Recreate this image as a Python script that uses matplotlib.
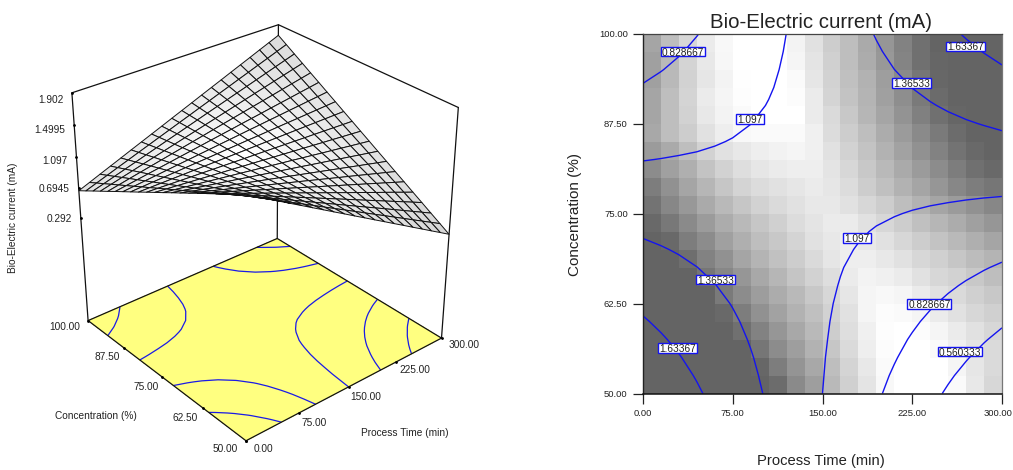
import numpy as np
import matplotlib
matplotlib.use("Agg")
import matplotlib.pyplot as plt
from matplotlib.patches import Rectangle
from matplotlib.transforms import ScaledTranslation

plt.rcParams['font.family'] = ['Liberation Sans', 'DejaVu Sans']

W, H = 1013, 470

# ---------- data ----------
time_values = [0, 15, 30, 45, 60, 75, 90, 105, 120, 135, 150, 165, 180, 195, 210, 225, 240, 255, 270, 285, 300]
conc_values = [50, 52.5, 55, 57.5, 60, 62.5, 65, 67.5, 70, 72.5, 75, 77.5, 80, 82.5, 85, 87.5, 90, 92.5, 95, 97.5, 100]
# rows: concentration, columns: process time
current_ma = [
 [1.902,1.822,1.741,1.661,1.580,1.500,1.419,1.339,1.258,1.178,1.097,1.017,0.936,0.856,0.775,0.695,0.614,0.534,0.453,0.373,0.292],
 [1.840,1.766,1.692,1.619,1.545,1.471,1.397,1.324,1.250,1.176,1.103,1.029,0.955,0.881,0.808,0.734,0.660,0.586,0.513,0.439,0.366],
 [1.777,1.711,1.644,1.577,1.510,1.443,1.376,1.309,1.242,1.175,1.108,1.041,0.974,0.907,0.841,0.774,0.707,0.640,0.573,0.506,0.439],
 [1.715,1.655,1.595,1.535,1.475,1.414,1.354,1.294,1.234,1.174,1.114,1.054,0.994,0.933,0.873,0.813,0.753,0.693,0.633,0.573,0.513],
 [1.653,1.599,1.546,1.493,1.439,1.386,1.333,1.279,1.226,1.173,1.119,1.066,1.013,0.959,0.906,0.853,0.799,0.746,0.693,0.639,0.586],
 [1.591,1.544,1.497,1.451,1.404,1.358,1.311,1.265,1.218,1.172,1.125,1.078,1.032,0.985,0.939,0.892,0.846,0.799,0.753,0.706,0.660],
 [1.528,1.488,1.449,1.409,1.369,1.329,1.290,1.250,1.210,1.170,1.131,1.091,1.051,1.011,0.971,0.932,0.892,0.852,0.812,0.773,0.733],
 [1.466,1.433,1.400,1.367,1.334,1.301,1.268,1.235,1.202,1.169,1.136,1.103,1.070,1.037,1.004,0.971,0.938,0.905,0.872,0.839,0.807],
 [1.404,1.377,1.351,1.325,1.299,1.273,1.247,1.220,1.194,1.168,1.142,1.116,1.090,1.063,1.037,1.011,0.985,0.959,0.932,0.906,0.880],
 [1.341,1.322,1.303,1.283,1.264,1.244,1.225,1.206,1.186,1.167,1.147,1.128,1.109,1.089,1.070,1.050,1.031,1.012,0.992,0.973,0.954],
 [1.279,1.266,1.254,1.241,1.229,1.216,1.203,1.191,1.178,1.166,1.153,1.140,1.128,1.115,1.103,1.090,1.077,1.065,1.052,1.040,1.027],
 [1.217,1.211,1.205,1.199,1.193,1.188,1.182,1.176,1.170,1.164,1.159,1.153,1.147,1.141,1.135,1.129,1.124,1.118,1.112,1.106,1.101],
 [1.154,1.155,1.156,1.157,1.158,1.159,1.160,1.161,1.162,1.163,1.164,1.165,1.166,1.167,1.168,1.169,1.170,1.171,1.172,1.173,1.174],
 [1.092,1.100,1.108,1.115,1.123,1.131,1.139,1.146,1.154,1.162,1.170,1.178,1.185,1.193,1.201,1.209,1.216,1.224,1.232,1.240,1.248],
 [1.030,1.044,1.059,1.073,1.088,1.103,1.117,1.132,1.146,1.161,1.175,1.190,1.205,1.219,1.234,1.248,1.263,1.277,1.292,1.306,1.321],
 [0.968,0.989,1.010,1.032,1.053,1.074,1.096,1.117,1.138,1.160,1.181,1.202,1.224,1.245,1.266,1.288,1.309,1.330,1.352,1.373,1.395],
 [0.905,0.933,0.962,0.990,1.018,1.046,1.074,1.102,1.130,1.158,1.187,1.215,1.243,1.271,1.299,1.327,1.355,1.384,1.412,1.440,1.468],
 [0.843,0.878,0.913,0.948,0.983,1.018,1.052,1.087,1.122,1.157,1.192,1.227,1.262,1.297,1.332,1.367,1.402,1.437,1.472,1.507,1.542],
 [0.781,0.822,0.864,0.906,0.947,0.989,1.031,1.073,1.114,1.156,1.198,1.240,1.281,1.323,1.365,1.406,1.448,1.490,1.532,1.573,1.615],
 [0.718,0.767,0.815,0.864,0.912,0.961,1.009,1.058,1.106,1.155,1.203,1.252,1.300,1.349,1.397,1.446,1.494,1.543,1.591,1.640,1.689],
 [0.656,0.711,0.767,0.822,0.877,0.933,0.988,1.043,1.098,1.154,1.209,1.264,1.320,1.375,1.430,1.486,1.541,1.596,1.652,1.707,1.762],
]
# grey level of the 20 x 20 map, listed from the top row (conc. 100) down
grey_cells = [
 [165,190,215,235,248,255,255,255,243,225,205,190,170,150,130,112,100,100,100,100],
 [160,185,212,232,247,255,255,255,245,228,208,190,172,152,132,112,102,100,100,100],
 [160,185,210,230,243,254,255,255,250,230,210,192,178,158,138,118,103,100,100,100],
 [165,190,212,235,245,253,255,255,252,235,212,195,180,160,142,122,107,100,100,100],
 [165,190,210,232,243,250,255,255,255,235,218,200,182,165,147,128,112,102,100,100],
 [168,190,205,225,238,248,250,250,250,240,220,205,190,172,155,138,122,108,100,100],
 [155,170,190,210,225,232,238,242,245,240,225,210,195,178,162,145,130,115,105,100],
 [140,160,175,195,210,222,230,235,238,238,228,215,200,185,170,155,140,125,112,105],
 [125,145,165,182,198,212,220,225,230,235,230,220,205,192,178,165,150,135,125,118],
 [115,135,152,170,185,198,210,218,225,232,232,225,215,205,190,178,165,155,145,135],
 [105,120,138,155,172,185,198,208,220,228,235,235,225,215,205,192,182,172,160,150],
 [100,105,125,140,160,175,190,200,212,225,232,238,232,225,215,205,195,185,175,165],
 [100,100,110,130,145,165,180,193,205,218,230,238,238,232,225,215,208,198,188,180],
 [100,100,100,118,135,150,168,182,197,210,222,235,243,240,235,225,215,210,200,190],
 [100,100,100,100,122,140,157,172,185,200,215,230,245,248,245,235,225,218,208,200],
 [100,100,100,100,105,125,145,162,178,192,210,225,245,252,250,245,235,225,215,208],
 [100,100,100,100,100,112,130,150,168,185,205,222,240,253,255,252,245,235,225,215],
 [100,100,100,100,100,100,118,140,158,178,198,218,238,252,255,255,250,240,228,218],
 [100,100,100,100,100,100,103,125,148,168,190,212,232,250,255,255,255,245,230,218],
 [100,100,100,100,100,100,100,108,138,158,185,208,228,248,255,255,255,250,232,215],
]
contour_levels = [0.560333, 0.828667, 1.097, 1.36533, 1.63367]
label_spots = [
 (33.2, 97.5, '0.828667'), (269.9, 98.2, '1.63367'), (224.6, 93.1, '1.36533'),
 (89.2, 88.1, '1.097'), (179.1, 71.6, '1.097'), (60.4, 65.8, '1.36533'),
 (29.2, 56.3, '1.63367'), (239.3, 62.4, '0.828667'), (265.2, 55.8, '0.560333'),
]
time_ticks = [0, 75, 150, 225, 300]
conc_ticks = [50, 62.5, 75, 87.5, 100]
z_ticks = [0.292, 0.6945, 1.097, 1.4995, 1.902]
z_floor = -1.15

T = np.array(time_values, float)
C = np.array(conc_values, float)
Z = np.array(current_ma, float)
X, Y = np.meshgrid(T, C)

fig = plt.figure(figsize=(W / 100, H / 100), dpi=100)
INK = '#222222'


def put(px, py, s, **kw):
    kw.setdefault('fontsize', 7.3)
    kw.setdefault('color', INK)
    kw.setdefault('ha', 'center')
    kw.setdefault('va', 'center')
    fig.text(px / W, 1 - py / H, s, **kw)


# ---------- left: response surface ----------
S3, CX3, CY3 = 460, 257, 226
ax3 = fig.add_axes([(CX3 - S3 / 2) / W, (H - CY3 - S3 / 2) / H, S3 / W, S3 / H],
                   projection='3d', computed_zorder=False)
ax3.set_proj_type('persp', focal_length=0.6)
ax3.set_box_aspect((1, 1, 1.01), zoom=0.961)
ax3.view_init(elev=30.2, azim=-130)
ax3.set_xlim(0, 300)
ax3.set_ylim(50, 100)
ax3.set_zlim(z_floor, 1.902)
ax3.set_axis_off()
ax3.patch.set_alpha(0)

# floor
FX, FY = np.meshgrid([0, 300], [50, 100])
ax3.plot_surface(FX, FY, np.full(FX.shape, z_floor), color='#FFFF80', shade=False,
                 linewidth=0, antialiased=False, zorder=1)
ax3.contour(X, Y, Z, levels=contour_levels, zdir='z', offset=z_floor, colors='#1a1ae6',
            linewidths=0.9, zorder=2)


def edge(xs, ys, zs, lw=0.9, z=3):
    ax3.plot(xs, ys, zs, color='#111111', lw=lw, zorder=z, solid_capstyle='round')


# box
edge([0, 300, 300, 0, 0], [50, 50, 100, 100, 50], [z_floor] * 5)
edge([0, 0], [100, 100], [z_floor, 1.902])
edge([300, 300], [100, 100], [z_floor, 1.902])
edge([300, 300], [50, 50], [z_floor, 1.902])
edge([0, 300, 300], [100, 100, 50], [1.902, 1.902, 1.902])
# ticks
ax3.plot(time_ticks, [50] * 5, [z_floor] * 5, ls='', marker='.', ms=2, color='k', zorder=3)
ax3.plot([0] * 5, conc_ticks, [z_floor] * 5, ls='', marker='.', ms=2, color='k', zorder=3)
ax3.plot([0] * 5, [100] * 5, z_ticks, ls='', marker='.', ms=2, color='k', zorder=3)

# surface: face grey follows the steepness of the surface
gz_c, gz_t = np.gradient(Z)
steep = np.hypot(gz_c, gz_t)
steep = 0.25 * (steep[:-1, :-1] + steep[1:, :-1] + steep[:-1, 1:] + steep[1:, 1:])
g = 1 - 0.16 * (steep - steep.min()) / (steep.max() - steep.min())
faces = np.dstack([g, g, g, np.ones_like(g)])
ax3.plot_surface(X, Y, Z, rstride=1, cstride=1, facecolors=faces, shade=False,
                 edgecolor='#111111', linewidth=0.7, zorder=4)

for px, py, s in [(50.5, 100, '1.902'), (50, 130, '1.4995'), (55, 160.5, '1.097'),
                  (54, 189.5, '0.6945'), (59, 219.5, '0.292'),
                  (65, 327.5, '100.00'), (107, 357, '87.50'), (146, 387, '75.00'),
                  (185, 418, '62.50'), (225, 448.5, '50.00'),
                  (263, 448.5, '0.00'), (314, 422.5, '75.00'), (366, 396.5, '150.00'),
                  (415, 370, '225.00'), (464, 344.5, '300.00')]:
    put(px, py, s)
put(96, 416, 'Concentration (%)')
put(405, 433, 'Process Time (min)')
put(13, 218, 'Bio-Electric current (mA)', rotation=90)

# ---------- right: contour map ----------
ax = fig.add_axes([643 / W, (H - 393.5) / H, 359 / W, 360 / H])
tx = np.linspace(0, 300, 21)
cy = np.linspace(100, 50, 21)
ax.pcolormesh(tx, cy, np.array(grey_cells), cmap='gray', vmin=0, vmax=255, shading='flat')
ax.contour(X, Y, Z, levels=contour_levels, colors='#1414f0', linewidths=1.0)
PX_X, PX_Y = 300 / 359, 50 / 360
box_px = {'0.828667': 44, '0.560333': 44, '1.63367': 39, '1.36533': 39, '1.097': 28}
for x, y, s in label_spots:
    bw, bh = box_px[s] * PX_X, 9.5 * PX_Y
    ax.add_patch(Rectangle((x - bw / 2, y - bh / 2), bw, bh, fc='white', ec='#1414f0', lw=1.0, zorder=5))
    ax.text(x, y, s, fontsize=7.3, color=INK, ha='center', va='center_baseline', zorder=6)
ax.set_xlim(0, 300)
ax.set_ylim(50, 100)
ax.set_xticks(time_ticks)
ax.set_yticks(conc_ticks)
ax.set_xticklabels([f'{v:.2f}' for v in time_ticks], fontsize=6.8, color=INK)
ax.set_yticklabels([f'{v:.2f}' for v in conc_ticks], fontsize=6.8, color=INK)
ax.tick_params(length=7, width=0.9, pad=4, color='#222222')
last = ax.get_xticklabels()[-1]
last.set_transform(last.get_transform() + ScaledTranslation(-4 / 100, 0, fig.dpi_scale_trans))
for side, col, lw in [('left', '#222222', 1.0), ('bottom', '#111111', 1.1),
                      ('top', '#444444', 0.9), ('right', '#777777', 0.9)]:
    ax.spines[side].set_color(col)
    ax.spines[side].set_linewidth(lw)
put(821, 22, 'Bio-Electric current (mA)', fontsize=14.7)
put(821, 461, 'Process Time (min)', fontsize=10.6)
put(575, 214, 'Concentration (%)', fontsize=11, rotation=90)

fig.savefig('out.png', dpi=100)
